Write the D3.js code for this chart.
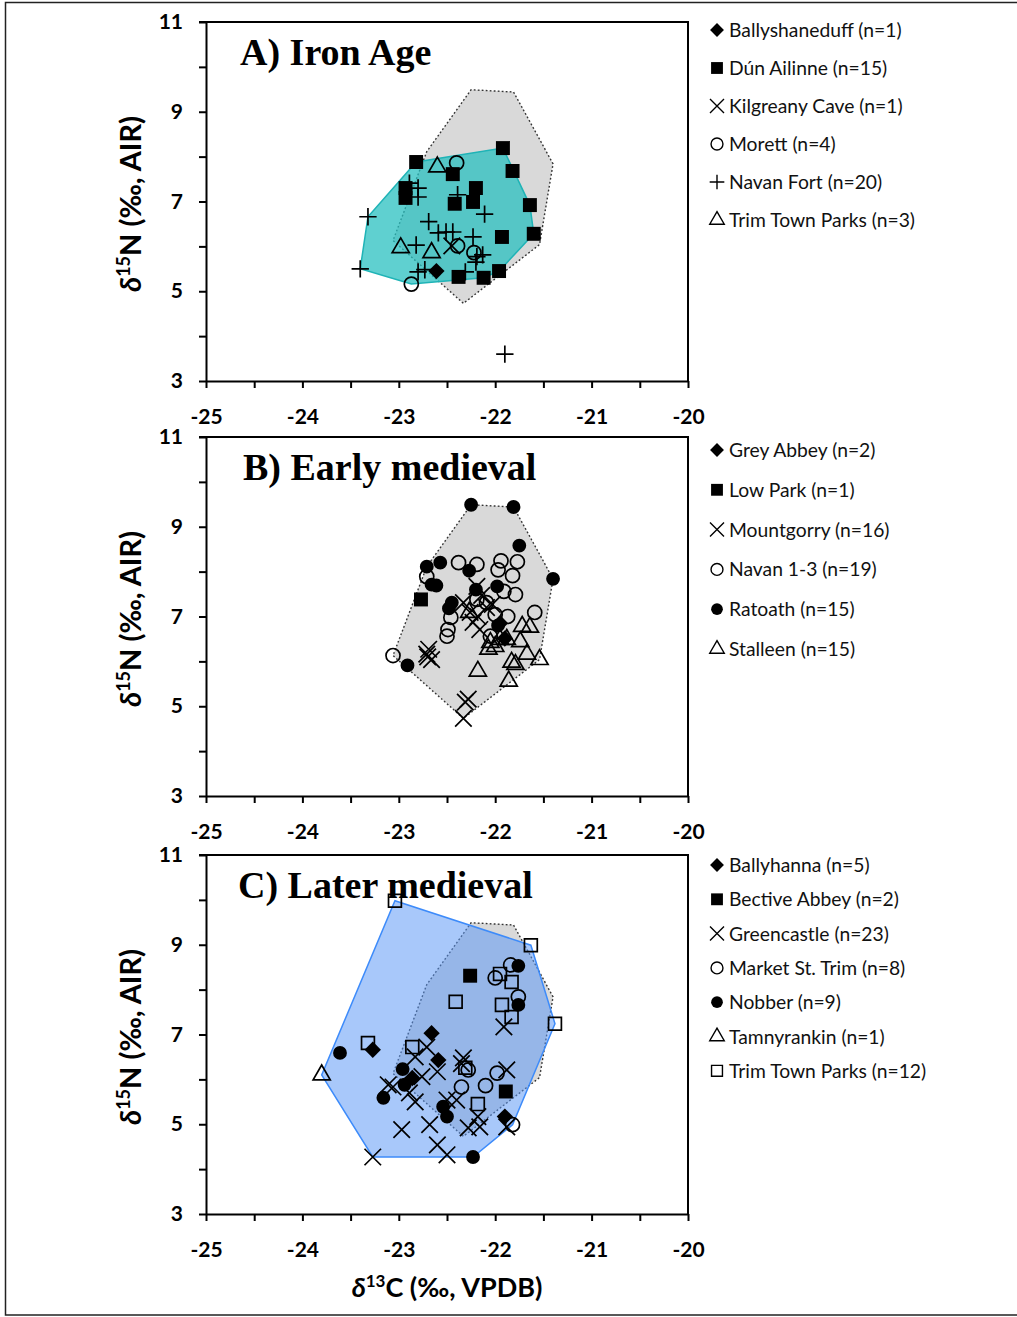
<!DOCTYPE html>
<html>
<head>
<meta charset="utf-8">
<script src="https://cdn.jsdelivr.net/npm/d3@7"></script>
<style>
  body { margin: 0; background: #fff; }
</style>
</head>
<body>
<div class="chart"></div>
<script>
// ---- data: [d13C, d15N] pairs ----
// A) Iron Age
const ironNames = ["Ballyshaneduff", "Dún Ailinne", "Kilgreany Cave", "Morett", "Navan Fort", "Trim Town Parks"]
const ironCounts = [1, 15, 1, 4, 20, 3]
const ironBallyshaneduff = [[-22.61, 5.45]]
const ironDunAilinne = [[-22.82, 7.88], [-21.92, 8.19], [-21.82, 7.68], [-22.44, 7.61], [-22.93, 7.30], [-22.93, 7.08],
  [-22.20, 7.30], [-22.23, 6.99], [-22.42, 6.95], [-21.64, 6.92], [-21.60, 6.28], [-21.93, 6.21],
  [-21.96, 5.45], [-22.12, 5.30], [-22.38, 5.32]]
const ironKilgreany = [[-22.45, 6.01]]
const ironMorett = [[-22.40, 7.86], [-22.39, 6.01], [-22.22, 5.86], [-22.87, 5.16]]
const ironNavanFort = [[-23.32, 6.66], [-23.40, 5.50], [-22.80, 7.30], [-22.80, 7.10], [-22.89, 7.41], [-22.39, 7.15],
  [-22.11, 6.72], [-22.69, 6.55], [-22.59, 6.30], [-22.51, 6.32], [-22.44, 6.32], [-22.23, 6.21],
  [-22.82, 6.03], [-22.19, 5.77], [-22.13, 5.81], [-22.20, 5.65], [-22.80, 5.43], [-22.31, 5.43],
  [-22.73, 5.48], [-21.90, 3.60]]
const ironTrim = [[-22.60, 7.77], [-22.98, 5.97], [-22.66, 5.86]]

// B) Early medieval
const earlyNames = ["Grey Abbey", "Low Park", "Mountgorry", "Navan 1-3", "Ratoath", "Stalleen"]
const earlyCounts = [2, 1, 16, 19, 15, 15]
const earlyGreyAbbey = [[-21.95, 6.85], [-21.90, 6.51]]
const earlyLowPark = [[-22.77, 7.38]]
const earlyMountgorry = [[-22.69, 6.27], [-22.71, 6.16], [-22.66, 6.04], [-22.70, 6.10], [-22.31, 5.09], [-22.28, 5.16],
  [-22.33, 4.73], [-22.19, 7.67], [-22.14, 7.47], [-22.26, 7.09], [-22.18, 7.00], [-22.33, 7.31],
  [-22.16, 6.71], [-22.03, 7.27], [-22.09, 7.20], [-22.23, 6.87]]
const earlyNavan = [[-22.38, 8.20], [-22.19, 8.16], [-21.94, 8.24], [-21.77, 8.22], [-21.97, 8.04], [-21.82, 7.91],
  [-22.71, 7.89], [-22.09, 7.31], [-21.79, 7.49], [-21.91, 7.56], [-21.59, 7.09], [-22.46, 6.98],
  [-22.49, 6.71], [-22.50, 6.56], [-22.05, 6.56], [-23.06, 6.13], [-22.19, 7.38], [-22.00, 7.04],
  [-21.87, 7.00]]
const earlyRatoath = [[-22.25, 9.49], [-21.81, 9.44], [-21.75, 8.58], [-21.40, 7.84], [-22.71, 8.11], [-22.57, 8.20],
  [-22.27, 8.02], [-22.66, 7.71], [-22.61, 7.69], [-21.98, 7.67], [-22.20, 7.60], [-22.45, 7.31],
  [-22.48, 7.18], [-21.97, 6.80], [-22.91, 5.91]]
const earlyStalleen = [[-22.07, 6.27], [-22.18, 5.78], [-21.86, 5.56], [-21.83, 5.98], [-21.67, 6.16], [-21.54, 6.04],
  [-21.72, 6.78], [-21.95, 6.49], [-21.88, 6.49], [-22.00, 6.33], [-22.27, 7.09], [-21.74, 6.44],
  [-21.79, 5.93], [-22.05, 6.42], [-21.64, 6.76]]

// C) Later medieval
const laterNames = ["Ballyhanna", "Bective Abbey", "Greencastle", "Market St. Trim", "Nobber", "Tamnyrankin", "Trim Town Parks"]
const laterCounts = [5, 2, 23, 8, 9, 1, 12]
const laterBallyhanna = [[-22.66, 7.03], [-23.27, 6.66], [-22.59, 6.43], [-22.86, 6.03], [-21.90, 5.17]]
const laterBective = [[-22.26, 8.31], [-21.89, 5.73]]
const laterGreencastle = [[-21.91, 7.17], [-22.71, 6.72], [-22.83, 6.50], [-22.33, 6.48], [-22.60, 6.17], [-22.76, 6.06],
  [-21.88, 6.21], [-23.11, 5.88], [-23.06, 5.83], [-22.83, 5.50], [-22.50, 5.54], [-22.40, 5.54],
  [-22.97, 4.88], [-22.68, 4.99], [-22.28, 4.92], [-22.16, 4.94], [-22.60, 4.54], [-22.50, 4.32],
  [-23.27, 4.27], [-22.18, 5.17], [-21.88, 4.94], [-22.35, 6.35], [-22.89, 5.70]]
const laterMarket = [[-21.84, 8.55], [-22.00, 8.26], [-21.76, 7.84], [-22.28, 6.21], [-21.98, 6.14], [-22.10, 5.86],
  [-22.35, 5.83], [-21.82, 4.99]]
const laterNobber = [[-21.76, 8.53], [-21.76, 7.66], [-23.61, 6.59], [-22.96, 6.23], [-22.94, 5.88], [-23.16, 5.59],
  [-22.54, 5.39], [-22.50, 5.17], [-22.23, 4.27]]
const laterTamnyrankin = [[-23.80, 6.10]]
const laterTrim = [[-23.04, 9.98], [-21.63, 8.99], [-21.38, 7.24], [-21.95, 8.35], [-21.83, 8.17], [-22.41, 7.73],
  [-21.93, 7.66], [-21.83, 7.39], [-22.86, 6.72], [-23.32, 6.81], [-22.31, 6.26], [-22.18, 5.45]]

const xTicks = d3.range(-25, -19.99, 0.5)
const yTicks = d3.range(3, 11.01, 1)

// ---- layout ----
const W = 1017, H = 1317
const plotLeft = 206, plotRight = 688, plotH = 359
const symbolStyle = {
  diamond: {type: d3.symbolDiamond2, size: 170, filled: true},
  square: {type: d3.symbolSquare, size: 195, filled: true},
  times: {type: d3.symbolTimes, size: 180, filled: false},
  circle: {type: d3.symbolCircle, size: 155, filled: false},
  dot: {type: d3.symbolCircle, size: 150, filled: true},
  plus: {type: d3.symbolPlus, size: 100, filled: false},
  triangle: {type: d3.symbolTriangle2, size: 210, filled: false},
  box: {type: d3.symbolSquare, size: 165, filled: false}
}

const panels = [
  {top: 22, title: "A) Iron Age", titleX: 240, names: ironNames, counts: ironCounts,
   series: [ironBallyshaneduff, ironDunAilinne, ironKilgreany, ironMorett, ironNavanFort, ironTrim],
   symbols: ["diamond", "square", "times", "circle", "plus", "triangle"],
   hull: {fill: "rgb(39,191,191)", opacity: 0.74, stroke: "#1fb3b6"},
   legendY: 30, legendStep: 38},
  {top: 437, title: "B) Early medieval", titleX: 243, names: earlyNames, counts: earlyCounts,
   series: [earlyGreyAbbey, earlyLowPark, earlyMountgorry, earlyNavan, earlyRatoath, earlyStalleen],
   symbols: ["diamond", "square", "times", "circle", "dot", "triangle"],
   hull: null, legendY: 450, legendStep: 39.8},
  {top: 855, title: "C) Later medieval", titleX: 238, names: laterNames, counts: laterCounts,
   series: [laterBallyhanna, laterBective, laterGreencastle, laterMarket, laterNobber, laterTamnyrankin, laterTrim],
   symbols: ["diamond", "square", "times", "circle", "dot", "triangle", "box"],
   hull: {fill: "rgb(90,151,245)", opacity: 0.53, stroke: "#3d8bfa"},
   legendY: 865, legendStep: 34.3}
]

const svg = d3.select(".chart").append("svg")
  .attr("width", W).attr("height", H)
  .style("font-family", "Lato, 'Open Sans', sans-serif")

// outer frame of the figure
svg.append("rect").attr("x", 5.5).attr("y", 2.5).attr("width", W + 10).attr("height", H - 4.5)
  .attr("fill", "none").attr("stroke", "#222").attr("stroke-width", 1.5)

const x = d3.scaleLinear().domain([-25, -20]).range([plotLeft, plotRight])
// the early medieval hull (grey, dotted) is shown in every panel
const earlyAll = panels[1].series.flat()

panels.forEach(p => {
  const y = d3.scaleLinear().domain([3, 11]).range([p.top + plotH, p.top])
  const g = svg.append("g")
  const toPx = d => [x(d[0]), y(d[1])]

  const greyHull = d3.polygonHull(earlyAll.map(toPx))
  g.append("path").attr("d", "M" + greyHull.join("L") + "Z")
    .attr("fill", "#d9d9d9").attr("stroke", "#333").attr("stroke-width", 1.4)
    .attr("stroke-dasharray", "1.8,2.2")

  if (p.hull) {
    // outlier below 4‰ left outside the Iron Age polygon
    const pts = p.series.flat().filter(d => d[1] > 4).map(toPx)
    const hull = d3.polygonHull(pts)
    g.append("path").attr("d", "M" + hull.join("L") + "Z")
      .attr("fill", p.hull.fill).attr("fill-opacity", p.hull.opacity)
      .attr("stroke", p.hull.stroke).attr("stroke-width", 1.5)
  }

  // points
  p.series.forEach((s, i) => {
    const st = symbolStyle[p.symbols[i]]
    g.selectAll(null).data(s).join("path")
      .attr("transform", d => `translate(${x(d[0])},${y(d[1])})`)
      .attr("d", d3.symbol().type(st.type).size(st.size))
      .attr("fill", st.filled ? "#000" : "none")
      .attr("stroke", st.filled ? "none" : "#000")
      .attr("stroke-width", 1.7)
  })

  // frame (top + right)
  g.append("path")
    .attr("d", `M${plotLeft - 7},${p.top}H${plotRight}V${p.top + plotH}`)
    .attr("fill", "none").attr("stroke", "#000").attr("stroke-width", 2)

  // axes
  const xAxis = g.append("g").attr("transform", `translate(0,${p.top + plotH})`)
    .call(d3.axisBottom(x).tickValues(xTicks).tickSize(7).tickSizeOuter(0).tickPadding(21)
      .tickFormat(d => Number.isInteger(d) ? String(d) : ""))
  const yAxis = g.append("g").attr("transform", `translate(${plotLeft},0)`)
    .call(d3.axisLeft(y).tickValues(yTicks).tickSize(7).tickSizeOuter(0).tickPadding(16)
      .tickFormat(d => d % 2 === 1 ? String(d) : ""))
  ;[xAxis, yAxis].forEach(a => {
    a.select(".domain").attr("stroke-width", 2)
    a.selectAll(".tick line").attr("stroke-width", 2)
    a.selectAll("text").attr("font-size", 21).attr("font-weight", "bold")
      .attr("font-family", "Lato, sans-serif").attr("fill", "#000")
  })

  // title
  g.append("text").attr("x", p.titleX).attr("y", p.top + 43)
    .attr("font-family", "'Liberation Serif', 'Times New Roman', serif")
    .attr("font-weight", "bold").attr("font-size", 38).text(p.title)

  // y-axis title
  const yt = g.append("text")
    .attr("transform", `translate(141,${p.top + 182}) rotate(-90)`)
    .attr("text-anchor", "middle").attr("font-weight", "bold").attr("font-size", 29)
  yt.append("tspan").attr("font-style", "italic").text("δ")
  yt.append("tspan").attr("font-size", 18).attr("dy", -11).text("15")
  yt.append("tspan").attr("dy", 11).text("N (‰, AIR)")

  // legend
  p.names.forEach((name, i) => {
    const ly = p.legendY + i * p.legendStep
    const st = symbolStyle[p.symbols[i]]
    g.append("path").attr("transform", `translate(717,${ly})`)
      .attr("d", d3.symbol().type(st.type).size(st.size * 0.72))
      .attr("fill", st.filled ? "#000" : "none")
      .attr("stroke", st.filled ? "none" : "#000").attr("stroke-width", 1.4)
    g.append("text").attr("x", 729).attr("y", ly + 7)
      .attr("font-size", 19.3).attr("fill", "#111")
      .text(`${name} (n=${p.counts[i]})`)
  })
})

// x-axis title
const xt = svg.append("text").attr("x", 447).attr("y", 1297)
  .attr("text-anchor", "middle").attr("font-weight", "bold").attr("font-size", 27)
xt.append("tspan").attr("font-style", "italic").text("δ")
xt.append("tspan").attr("font-size", 17).attr("dy", -10).text("13")
xt.append("tspan").attr("dy", 10).text("C (‰, VPDB)")
</script>
</body>
</html>
